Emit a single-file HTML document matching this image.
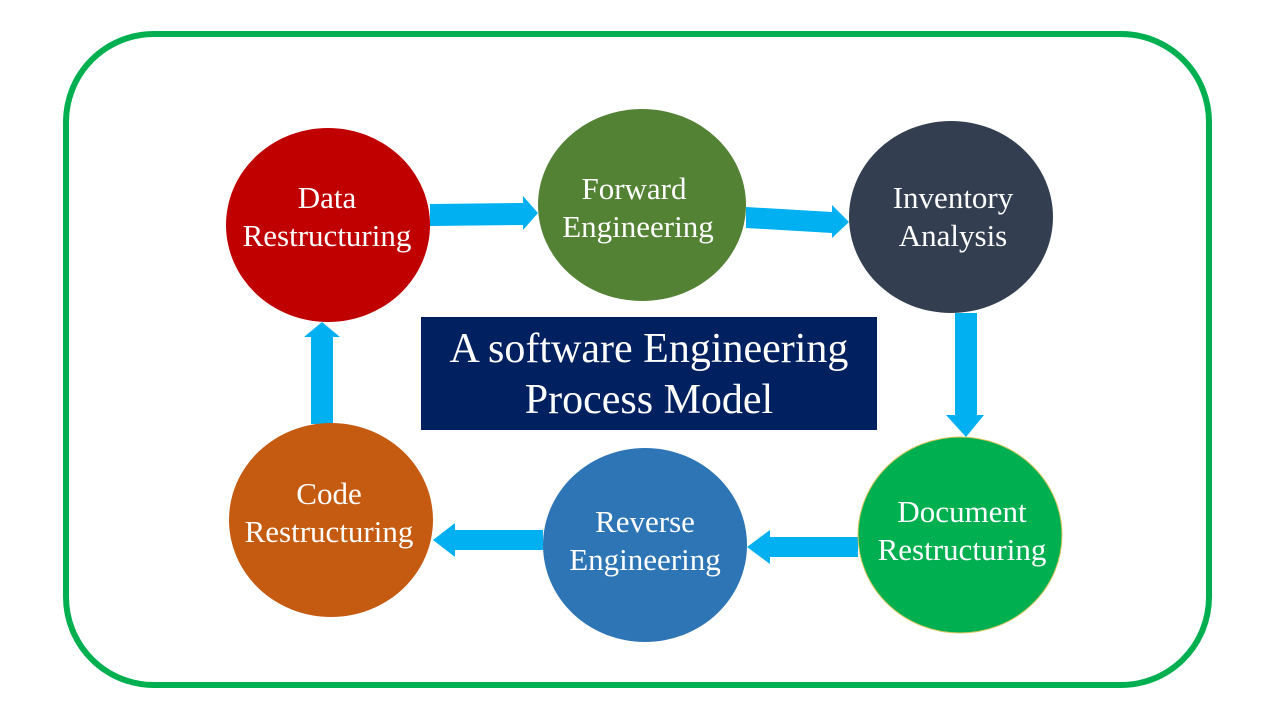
<!DOCTYPE html>
<html><head><meta charset="utf-8"><style>
html,body{margin:0;padding:0;background:#fff;}
svg{display:block;}
text{font-family:"Liberation Serif",serif;fill:#fff;text-anchor:middle;}
</style></head><body>
<svg width="1280" height="720" viewBox="0 0 1280 720">
<rect x="66" y="34" width="1143" height="651" rx="88" ry="88" fill="none" stroke="#00B050" stroke-width="6"/>
<g fill="#00B0F0">
<polygon points="430,204 523,203 523,196 538,213 523,230 523,225 430,226"/>
<polygon points="746,207 832,212 832,205 849,222 832,238 832,233 746,228"/>
<polygon points="955,313 977,313 977,415 984,415 966,437 946,415 955,415"/>
<polygon points="858,537 770,537 770,530 747,547 770,564 770,557 858,557"/>
<polygon points="543,530 455,530 455,523 433,540 455,557 455,550 543,550"/>
<polygon points="311,424 333,424 333,337 340,337 322,322 304,337 311,337"/>
</g>
<ellipse cx="328" cy="225" rx="102" ry="97" fill="#C00000"/>
<ellipse cx="642" cy="205" rx="104" ry="96" fill="#548235"/>
<ellipse cx="951" cy="217" rx="102" ry="96" fill="#333F50"/>
<ellipse cx="960" cy="535" rx="102" ry="98" fill="#00B050" stroke="#d8c860" stroke-width="1"/>
<ellipse cx="645" cy="545" rx="102" ry="97" fill="#2E75B6"/>
<ellipse cx="331" cy="520" rx="102" ry="97" fill="#C55A11"/>
<rect x="421" y="317" width="456" height="113" fill="#002060"/>
<g font-size="31">
<text x="327" y="208">Data</text><text x="327" y="246">Restructuring</text>
<text x="634" y="199">Forward</text><text x="638" y="237">Engineering</text>
<text x="953" y="208">Inventory</text><text x="953" y="246">Analysis</text>
<text x="962" y="522">Document</text><text x="962" y="560">Restructuring</text>
<text x="645" y="532">Reverse</text><text x="645" y="570">Engineering</text>
<text x="329" y="504">Code</text><text x="329" y="542">Restructuring</text>
</g>
<g font-size="42">
<text x="649" y="362">A software Engineering</text>
<text x="649" y="413">Process Model</text>
</g>
</svg>
</body></html>
